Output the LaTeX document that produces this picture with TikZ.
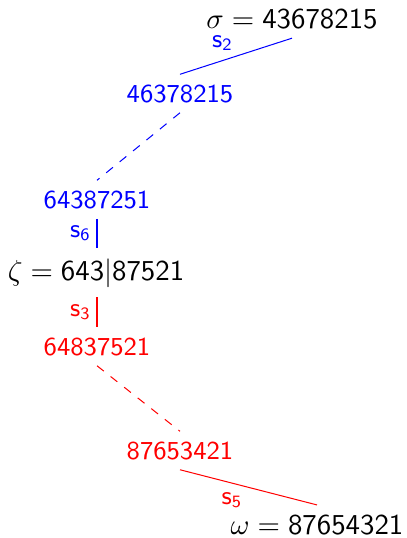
\documentclass[tikz,border=0pt]{standalone}
\usepackage{xcolor}
\usepackage{tikz}

\begin{document}
\begin{tikzpicture}[
		x=0.347pt, y=-0.347pt,
		perm/.style={
			font=\sffamily,
			anchor=base
		},
		upperm/.style={perm, font=\sffamily\small, text=blue},
		downperm/.style={perm, font=\sffamily\small, text=red},
		uplabel/.style={font=\sffamily\small, text=blue},
		downlabel/.style={font=\sffamily\small, text=red},
		upline/.style={draw=blue, line width=0.35pt},
		downline/.style={draw=red, line width=0.35pt}
	]
	\useasboundingbox (0,0) rectangle (406,538);
	
	% Start, middle and end permutations
	\node[perm] (sigma) at (292,28) {$\sigma = \mathsf{43678215}$};
	\node[perm] (zeta) at (96,280) {$\zeta = \mathsf{643}|\mathsf{87521}$};
	\node[perm] (omega) at (317,534) {$\omega = \mathsf{87654321}$};
	
	% Upper branch
	\node[upperm] (up1) at (180,102) {46378215};
	\node[upperm] (up2) at (97,208) {64387251};
	
	% Lower branch
	\node[downperm] (down1) at (97,355) {64837521};
	\node[downperm] (down2) at (180,459) {87653421};
	
	% Upper connectors
	\draw[upline] (sigma.south) -- node[pos=0.62, above, uplabel] {$\mathsf{s}_{\mathsf{2}}$} (up1.north);
	\draw[upline, dashed] (up1.south) -- (up2.north);
	\draw[upline] (up2.south) -- node[midway, left, xshift=1.4pt, uplabel] {$\mathsf{s}_{\mathsf{6}}$} (up2.south |- zeta.north);
	
	% Lower connectors
	\draw[downline] (down1.north |- zeta.south) -- node[midway, left, xshift=1.4pt, downlabel] {$\mathsf{s}_{\mathsf{3}}$} (down1.north);
	\draw[downline, dashed] (down1.south) -- (down2.north);
	\draw[downline] (down2.south) -- node[pos=0.38, below, downlabel] {$\mathsf{s}_{\mathsf{5}}$} (omega.north);
	
\end{tikzpicture}
\end{document}
